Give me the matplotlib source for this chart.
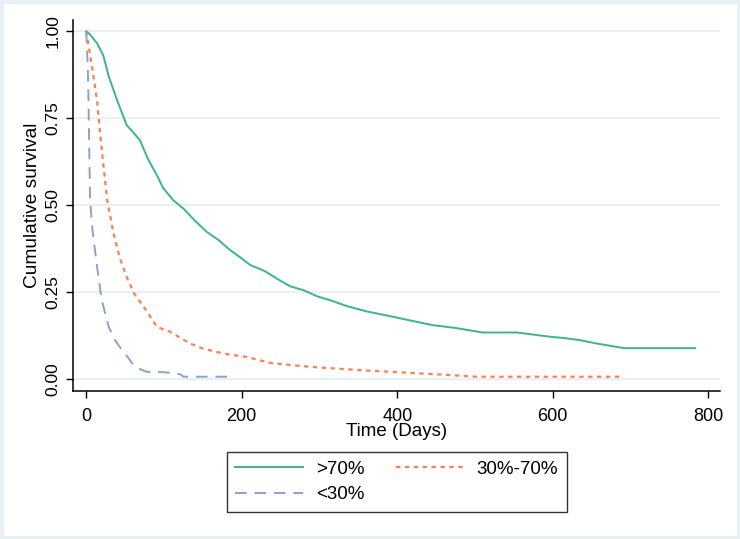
import matplotlib
matplotlib.use("Agg")
import matplotlib.pyplot as plt
from matplotlib.patches import Rectangle

plt.rcParams['font.family'] = ['Liberation Sans', 'DejaVu Sans']

# survival curves (days, cumulative survival)
days_high = [0, 5, 14, 22, 29, 40, 52, 60, 69, 80, 90, 99, 112, 125, 140, 155, 170,
             185, 198, 211, 230, 248, 262, 280, 297, 316, 335, 360, 395, 420, 446,
             475, 510, 554, 575, 596, 615, 635, 655, 676, 692, 783]
surv_high = [1.00, 0.99, 0.965, 0.93, 0.87, 0.80, 0.73, 0.71, 0.687, 0.63, 0.59,
             0.549, 0.514, 0.49, 0.455, 0.423, 0.40, 0.371, 0.35, 0.328, 0.31,
             0.285, 0.267, 0.255, 0.238, 0.225, 0.210, 0.195, 0.179, 0.167, 0.155,
             0.147, 0.134, 0.134, 0.128, 0.122, 0.118, 0.112, 0.103, 0.095, 0.089, 0.089]

days_mid = [0, 3, 8, 14, 20, 27, 35, 43, 52, 62, 74, 91, 108, 120, 134, 150, 168,
            186, 206, 236, 265, 297, 352, 400, 451, 502, 689]
surv_mid = [1.00, 0.96, 0.89, 0.80, 0.66, 0.514, 0.42, 0.35, 0.294, 0.245, 0.208,
            0.150, 0.136, 0.12, 0.102, 0.088, 0.078, 0.070, 0.064, 0.047, 0.040,
            0.034, 0.026, 0.020, 0.014, 0.007, 0.007]

days_low = [0, 2, 3, 5, 8, 14, 20, 29, 37, 44, 50, 61, 70, 78, 100, 121, 125, 185]
surv_low = [1.00, 0.90, 0.80, 0.514, 0.43, 0.322, 0.227, 0.150, 0.112, 0.09, 0.074,
            0.040, 0.028, 0.021, 0.020, 0.014, 0.007, 0.007]

labels = [">70%", "30%-70%", "<30%"]
colors = ["#3bb58a", "#fb8055", "#8fa0cb"]

fig = plt.figure(figsize=(7.4, 5.39), dpi=100)
fig.patch.set_facecolor("white")
fig.patches.append(Rectangle((0, 0), 1, 1, transform=fig.transFigure, fill=False,
                             edgecolor="#e9f0f3", linewidth=5, zorder=0))

ax = fig.add_axes([0.0986, 0.2746, 0.8744, 0.6884])

for y in [0, 0.25, 0.5, 0.75, 1.0]:
    ax.axhline(y, color="#e3ecf1", linewidth=1.1, zorder=0)

ax.plot(days_high, surv_high, color=colors[0], linewidth=1.4, label=labels[0])
ax.plot(days_mid, surv_mid, color=colors[1], linewidth=1.6, linestyle=(0, (2, 2)),
        label=labels[1])
ax.plot(days_low, surv_low, color=colors[2], linewidth=1.4, linestyle=(0, (6, 4)),
        label=labels[2])

ax.set_xlim(-17, 815)
ax.set_ylim(-0.034, 1.032)
ax.set_xticks([0, 200, 400, 600, 800])
ax.set_yticks([0, 0.25, 0.5, 0.75, 1.0])
ax.set_yticklabels(["0.00", "0.25", "0.50", "0.75", "1.00"], rotation=90, va="center")
ax.tick_params(axis="both", length=5, width=1, color="black")
ax.tick_params(axis="y", pad=4, labelsize=12.5)
ax.tick_params(axis="x", pad=7, labelsize=13)

for s in ["top", "right"]:
    ax.spines[s].set_visible(False)
for s in ["left", "bottom"]:
    ax.spines[s].set_linewidth(1.1)

ax.set_xlabel("Time (Days)", fontsize=13.5, labelpad=-1)
ax.set_ylabel("Cumulative survival", fontsize=13.8, labelpad=3)

handles, labs = ax.get_legend_handles_labels()
order = [0, 2, 1]
leg = fig.legend([handles[i] for i in order], [labs[i] for i in order], ncol=2,
                 loc="center", bbox_to_anchor=(0.536, 0.106), fontsize=13.5,
                 frameon=True, fancybox=False, handlelength=3.6, columnspacing=1.7,
                 handletextpad=0.7, borderpad=0.45, labelspacing=0.45)
leg.get_frame().set_edgecolor("black")
leg.get_frame().set_linewidth(1.0)

fig.savefig("out.png", dpi=100)
